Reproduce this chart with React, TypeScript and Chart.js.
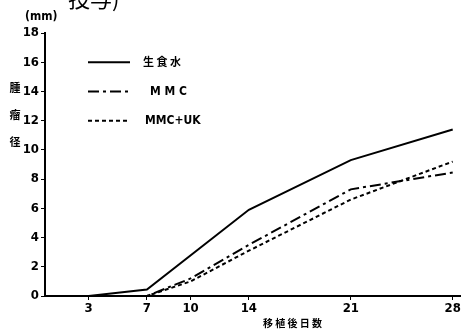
import React, { useEffect, useRef } from "react";
import { Chart, registerables } from "chart.js";

Chart.register(...registerables);

const days = [3, 7, 10, 14, 21, 28];
const xTickLabels = [3, 7, 10, 14, 21, 28];
const salineValues = [0, 0.45, null, 5.9, 9.3, 11.4];
const mmcValues = [0, 0, 1.2, 3.5, 7.3, 8.45];
const mmcUkValues = [0, 0, 1.0, 3.1, 6.6, 9.2];
const seriesNames = ["生 食 水", "M M C", "MMC+UK"];
const yTitleChars = ["腫", "瘤", "径"];
const xTitle = "移 植 後 日 数";
const unitLabel = "(mm)";
const topFragment = "投与)";

const dashes = [[], [11, 4, 3, 4], [4, 3]];

const FONT = "'Liberation Sans Narrow', 'DejaVu Sans Condensed', sans-serif";
const CJK = "'Noto Sans CJK JP', sans-serif";

const decorPlugin = {
  id: "decor",
  afterDraw(chart: any) {
    const ctx = chart.ctx;
    const xs = chart.scales.x;
    const ys = chart.scales.y;
    ctx.save();
    ctx.fillStyle = "#000";
    ctx.font = `22px ${CJK}`;
    ctx.textAlign = "left";
    ctx.textBaseline = "alphabetic";
    ctx.fillText(topFragment, 68, 7);
    ctx.font = `bold 12px ${FONT}`;
    ctx.textAlign = "left";
    ctx.textBaseline = "middle";
    ctx.fillText(unitLabel, 25, 17);
    ctx.font = `bold 11px ${CJK}`;
    ctx.textAlign = "center";
    const yPos = [88, 115, 142];
    yTitleChars.forEach((c, i) => ctx.fillText(c, 15, yPos[i]));
    ctx.font = `bold 10px ${CJK}`;
    ctx.fillText(xTitle, xs.getPixelForValue(17), 323);
    const ly = [ys.getPixelForValue(16), ys.getPixelForValue(14), ys.getPixelForValue(12)];
    const lx = [143, 150, 145];
    chart.data.datasets.forEach((ds: any, i: number) => {
      ctx.beginPath();
      ctx.lineWidth = 2;
      ctx.strokeStyle = "#000";
      ctx.setLineDash(dashes[i]);
      ctx.moveTo(88, ly[i]);
      ctx.lineTo(130, ly[i]);
      ctx.stroke();
      ctx.setLineDash([]);
      ctx.font = i === 0 ? `bold 11px ${CJK}` : `bold 12px ${FONT}`;
      ctx.textAlign = "left";
      ctx.textBaseline = "middle";
      ctx.fillText(ds.label, lx[i], ly[i]);
    });
    ctx.restore();
  },
};

export default function App() {
  const ref = useRef<HTMLCanvasElement>(null);
  useEffect(() => {
    if (!ref.current) return;
    const mk = (vals: (number | null)[]) =>
      days.map((d, i) => ({ x: d, y: vals[i] })).filter((p) => p.y !== null);
    const chart = new Chart(ref.current, {
      type: "line",
      data: {
        datasets: [salineValues, mmcValues, mmcUkValues].map((vals, i) => ({
          label: seriesNames[i],
          data: mk(vals) as any,
          borderColor: "#000",
          borderWidth: 2,
          borderDash: dashes[i],
          pointRadius: 0,
          fill: false,
          tension: 0,
        })),
      },
      options: {
        animation: false,
        responsive: false,
        maintainAspectRatio: false,
        layout: { padding: { top: 33, right: 3, bottom: 0, left: 0 } },
        plugins: { legend: { display: false }, tooltip: { enabled: false } },
        scales: {
          x: {
            type: "linear",
            min: 0,
            max: 28.5,
            afterBuildTicks: (s: any) => {
              s.ticks = xTickLabels.map((v) => ({ value: v }));
            },
            afterFit: (s: any) => {
              s.height = 35;
            },
            border: { display: true, color: "#000", width: 2 },
            grid: { drawOnChartArea: false, color: "#000", tickLength: 4, lineWidth: 1 },
            ticks: {
              color: "#000",
              font: { family: FONT, size: 13, weight: "bold" },
              padding: 1,
              maxRotation: 0,
              autoSkip: false,
            },
          },
          y: {
            min: 0,
            max: 18,
            afterFit: (s: any) => {
              s.width = 45;
            },
            border: { display: true, color: "#000", width: 2 },
            grid: { drawOnChartArea: false, color: "#000", tickLength: 4, lineWidth: 1 },
            ticks: {
              stepSize: 2,
              color: "#000",
              font: { family: FONT, size: 13, weight: "bold" },
              padding: 2,
            },
          },
        },
      },
      plugins: [decorPlugin],
    });
    return () => chart.destroy();
  }, []);
  return (
    <div style={{ position: "fixed", left: 0, top: 0, width: 463, height: 331, background: "#fff" }}>
      <canvas ref={ref} width={463} height={331} style={{ width: 463, height: 331 }} />
    </div>
  );
}
